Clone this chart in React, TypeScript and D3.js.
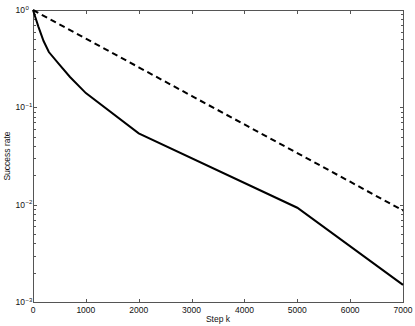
import { useRef, useEffect } from 'react'
import * as d3 from 'd3'

const W = 415
const H = 326
const pad = { l: 33, r: 12, t: 10, b: 24 }

// solid curve (step k, success rate)
const solidSteps = [0, 100, 200, 300, 500, 700, 1000, 2000, 5000, 7000]
const solidRates = [1, 0.68, 0.48, 0.37, 0.275, 0.205, 0.14, 0.054, 0.0093, 0.0015]

// dashed curve
const dashedSteps = [0, 1000, 2000, 3000, 4000, 5000, 6000, 7000]
const dashedRates = [1, 0.508, 0.258, 0.131, 0.0667, 0.0339, 0.0172, 0.0087]

const xTicks = [0, 1000, 2000, 3000, 4000, 5000, 6000, 7000]
const yDecades = [1e-3, 1e-2, 1e-1, 1]
const yExpLabels = ['−3', '−2', '−1', '0']

const FONT = 'Liberation Sans, Arial, Helvetica, sans-serif'
const AXIS = '#555'

export default function App() {
  const svgRef = useRef<SVGSVGElement>(null)

  useEffect(() => {
    const el = svgRef.current
    if (!el) return
    d3.select(el).selectAll('*').remove()
    const svg = d3.select(el)

    const x = d3.scaleLinear().domain([0, 7000]).range([pad.l, W - pad.r])
    const y = d3.scaleLog().domain([1e-3, 1]).range([H - pad.b, pad.t])
    const x0 = pad.l, x1 = W - pad.r, y0 = H - pad.b, y1 = pad.t

    svg.append('rect').attr('width', W).attr('height', H).attr('fill', '#fff')

    const g = svg.append('g').attr('stroke', AXIS).attr('stroke-width', 1).attr('shape-rendering', 'crispEdges')

    // x ticks, bottom and top
    xTicks.forEach(t => {
      const px = Math.round(x(t)) + 0.5
      g.append('line').attr('x1', px).attr('x2', px).attr('y1', y0).attr('y2', y0 - 3.5)
      g.append('line').attr('x1', px).attr('x2', px).attr('y1', y1).attr('y2', y1 + 3.5)
    })

    // y ticks: major + minor, left and right
    const yMinor: number[] = []
    for (let e = -3; e < 0; e++) for (let m = 2; m <= 9; m++) yMinor.push(m * Math.pow(10, e))
    yDecades.concat(yMinor).forEach(v => {
      const py = Math.round(y(v)) + 0.5
      const len = yDecades.includes(v) ? 3.5 : 2.5
      g.append('line').attr('x1', x0).attr('x2', x0 + len).attr('y1', py).attr('y2', py)
      g.append('line').attr('x1', x1).attr('x2', x1 - len).attr('y1', py).attr('y2', py)
    })

    // frame
    g.append('rect')
      .attr('x', x0 + 0.5).attr('y', y1 + 0.5)
      .attr('width', x1 - x0).attr('height', y0 - y1)
      .attr('fill', 'none')

    // x tick labels
    svg.selectAll('.xl')
      .data(xTicks)
      .join('text')
      .attr('class', 'xl')
      .attr('x', d => x(d))
      .attr('y', y0 + 10.5)
      .attr('text-anchor', 'middle')
      .attr('font-size', 8.5)
      .attr('font-family', FONT)
      .attr('fill', '#111')
      .text(d => String(d))

    // y tick labels 10^n
    yDecades.forEach((v, i) => {
      const t = svg.append('text')
        .attr('y', y(v) + 3)
        .attr('font-family', FONT)
        .attr('fill', '#111')
      t.append('tspan').attr('x', 15.5).attr('font-size', 8.5).text('10')
      t.append('tspan').attr('dy', -3.5).attr('dx', 0.5).attr('font-size', 6).text(yExpLabels[i])
    })

    // axis titles
    svg.append('text')
      .attr('x', (x0 + x1) / 2)
      .attr('y', H - 4.5)
      .attr('text-anchor', 'middle')
      .attr('font-size', 8.5)
      .attr('font-family', FONT)
      .attr('fill', '#111')
      .text('Step k')

    svg.append('text')
      .attr('transform', `translate(10,${(y0 + y1) / 2}) rotate(-90)`)
      .attr('text-anchor', 'middle')
      .attr('font-size', 8.5)
      .attr('font-family', FONT)
      .attr('fill', '#111')
      .text('Success rate')

    const line = d3.line<[number, number]>().x(d => x(d[0])).y(d => y(d[1]))

    svg.append('path')
      .datum(dashedSteps.map((s, i) => [s, dashedRates[i]] as [number, number]))
      .attr('d', line)
      .attr('fill', 'none')
      .attr('stroke', '#000')
      .attr('stroke-width', 2)
      .attr('stroke-dasharray', '6,4')

    svg.append('path')
      .datum(solidSteps.map((s, i) => [s, solidRates[i]] as [number, number]))
      .attr('d', line)
      .attr('fill', 'none')
      .attr('stroke', '#000')
      .attr('stroke-width', 2)
  }, [])

  return (
    <svg
      ref={svgRef}
      width={W}
      height={H}
      style={{ position: 'absolute', left: 0, top: 0, display: 'block' }}
    />
  )
}
